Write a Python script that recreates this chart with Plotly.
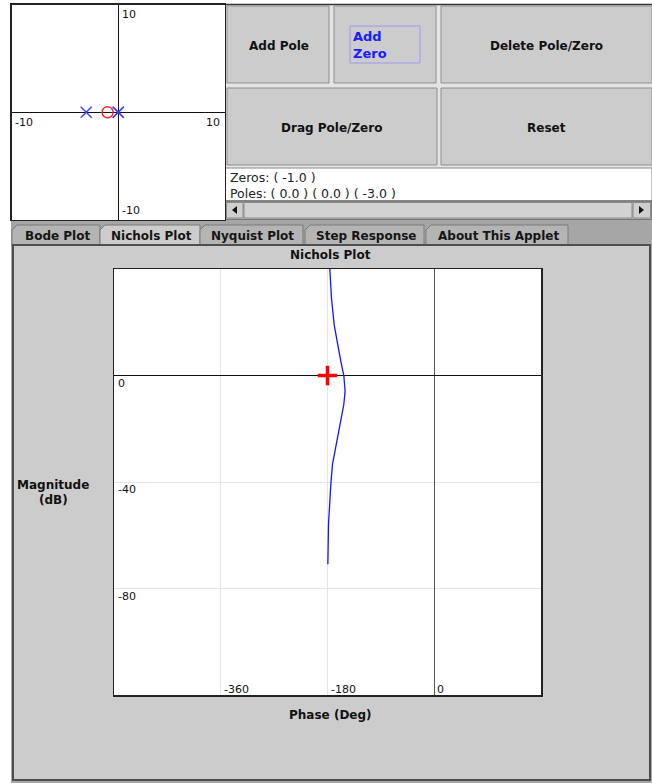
import plotly.graph_objects as go

# ---------------- data ----------------
ZEROS = [-1.0]
POLES = [0.0, 0.0, -3.0]

# Nichols curve (phase in deg, magnitude in dB)
PHASE = [-176.1, -173.3, -168.8, -163.2, -157.6, -152.5, -150.3, -152.5,
         -157.6, -166.0, -171.6, -174.4, -176.1, -178.3, -179.4]
MAG = [40.0, 29.1, 19.1, 11.6, 5.4, 0.0, -5.9, -10.9,
       -17.1, -25.9, -33.4, -40.9, -47.1, -55.9, -70.9]

CRIT_PHASE = [-180]
CRIT_MAG = [0]

X_TICKS = [-360, -180, 0]
X_TICK_LABELS = ["-360", "-180", "0"]
Y_TICKS = [0, -40, -80]
Y_TICK_LABELS = ["0", "-40", "-80"]
X_RANGE = [-540, 180]
Y_RANGE = [-120, 40]

PZ_RANGE = [-10, 10]
PZ_LABELS = ["10", "-10", "10", "-10"]

BUTTONS = ["Add Pole", "Add<br>Zero", "Delete Pole/Zero", "Drag Pole/Zero", "Reset"]
TABS = ["Bode Plot", "Nichols Plot", "Nyquist Plot", "Step Response", "About This Applet"]

W, H = 652, 783
FONT = "DejaVu Sans"


def px(x):
    return x / W


def py(y):
    return 1 - y / H


shapes = []
annotations = []


def rect(x0, y0, x1, y1, fill=None, line=None, lw=1):
    shapes.append(dict(type="rect", xref="paper", yref="paper",
                       x0=px(x0), x1=px(x1), y0=py(y1), y1=py(y0),
                       fillcolor=fill if fill else "rgba(0,0,0,0)",
                       line=dict(color=line if line else "rgba(0,0,0,0)", width=lw if line else 0),
                       layer="below"))


def path(pts, fill, line=None, lw=1):
    d = "M " + " L ".join(f"{px(x):.5f},{py(y):.5f}" for x, y in pts) + " Z"
    shapes.append(dict(type="path", xref="paper", yref="paper", path=d,
                       fillcolor=fill,
                       line=dict(color=line if line else "rgba(0,0,0,0)", width=lw if line else 0),
                       layer="below"))


def text(x, y, s, size=12, bold=True, color="#111111", xanchor="center", align="center"):
    annotations.append(dict(xref="paper", yref="paper", x=px(x), y=py(y), text=s,
                            showarrow=False, xanchor=xanchor, yanchor="middle", align=align,
                            font=dict(family=FONT, size=size, color=color,
                                      weight="bold" if bold else "normal")))


# ---------- top-right controls ----------
rect(225, 4, 652, 168, fill="#e4e4e4")
shapes.append(dict(type="line", xref="paper", yref="paper", x0=px(225), x1=px(652),
                   y0=py(4.5), y1=py(4.5), line=dict(color="#333333", width=1.5), layer="below"))
btn_boxes = [(227, 6, 329, 83), (334, 6, 436, 83), (441, 6, 652, 83),
             (227, 88, 437, 165), (441, 88, 652, 165)]
for (x0, y0, x1, y1) in btn_boxes:
    rect(x0, y0, x1, y1, fill="#cccccc", line="#8e8e8e", lw=1)
# focus rectangle on "Add Zero"
rect(350, 26, 420, 63, line="#9a9aee", lw=1)

text(279, 45.5, BUTTONS[0], size=12)
text(351, 45, BUTTONS[1], size=13, color="#1a1aff", xanchor="left", align="left")
text(546.5, 45.5, BUTTONS[2], size=12)
text(332, 127.5, BUTTONS[3], size=12)
text(546.5, 127.5, BUTTONS[4], size=12)

# text area
rect(225, 168, 652, 201, fill="#ffffff", line="#8a8a8a", lw=1)
zeros_txt = "Zeros: " + " ".join(f"( {z:.1f} )" for z in ZEROS)
poles_txt = "Poles: " + " ".join(f"( {p:.1f} )" for p in POLES)
text(227.5, 177, zeros_txt, size=12.5, bold=False, color="#222222", xanchor="left")
text(227.5, 193.5, poles_txt, size=12.5, bold=False, color="#222222", xanchor="left")

# scrollbar
rect(225, 201, 652, 219.5, fill="#bdbdbd", line="#444444", lw=1)
rect(226.5, 202.5, 243, 218, fill="#cfcfcf", line="#8a8a8a", lw=1)
rect(244, 202.5, 632, 218, fill="#d2d2d2", line="#8a8a8a", lw=1)
rect(633, 202.5, 650.5, 218, fill="#cfcfcf", line="#8a8a8a", lw=1)
path([(237, 206), (237, 214), (232, 210)], fill="#111111")
path([(639, 206), (639, 214), (644, 210)], fill="#111111")

# ---------- tab strip and panel ----------
rect(11, 219.5, 652, 783, fill="#a6a6a6")
tab_x = [(12, 100), (100, 200), (200, 303), (305, 424), (426, 568)]
for i, (x0, x1) in enumerate(tab_x):
    sel = (i == 1)
    path([(x0, 246), (x0, 230), (x0 + 5, 225), (x1, 225), (x1, 246)],
         fill="#cccccc" if sel else "#b4b4b4", line="#7a7a7a", lw=1)
    text((x0 + x1) / 2 + 1, 236, TABS[i], size=12, color="#151515")

rect(13, 245, 650, 780, fill="#cccccc", line="#4e4e4e", lw=2)
text(331, 255.5, "Nichols Plot", size=12)
text(53, 485, "Magnitude", size=12)
text(53, 500, "(dB)", size=12)
text(331, 715, "Phase (Deg)", size=12)

# white plot backgrounds
rect(114, 269, 541, 695, fill="#ffffff")
rect(11.5, 4.5, 225, 220, fill="#ffffff")

# ---------- traces ----------
fig = go.Figure()
fig.add_trace(go.Scatter(x=PHASE, y=MAG, mode="lines",
                         line=dict(color="#1414ff", width=1.3),
                         xaxis="x", yaxis="y", hoverinfo="skip"))
fig.add_trace(go.Scatter(x=CRIT_PHASE, y=CRIT_MAG, mode="markers",
                         marker=dict(symbol="cross-thin", size=14,
                                     line=dict(color="#ff0000", width=3.5)),
                         xaxis="x", yaxis="y", hoverinfo="skip"))
fig.add_trace(go.Scatter(x=POLES, y=[0] * len(POLES), mode="markers",
                         marker=dict(symbol="x-thin", size=11,
                                     line=dict(color="#3c3cff", width=1.4)),
                         xaxis="x2", yaxis="y2", hoverinfo="skip"))
fig.add_trace(go.Scatter(x=ZEROS, y=[0] * len(ZEROS), mode="markers",
                         marker=dict(symbol="circle-open", size=11,
                                     color="#ff2020", line=dict(width=1.4)),
                         xaxis="x2", yaxis="y2", hoverinfo="skip"))

# Nichols tick labels inside the plot
for v, s in zip(X_TICKS, X_TICK_LABELS):
    annotations.append(dict(xref="x", yref="y", x=v, y=Y_RANGE[0], text=s, showarrow=False,
                            xanchor="left", yanchor="bottom", xshift=1, yshift=-3,
                            font=dict(family=FONT, size=11, color="#111111")))
for v, s in zip(Y_TICKS, Y_TICK_LABELS):
    annotations.append(dict(xref="x", yref="y", x=X_RANGE[0], y=v, text=s, showarrow=False,
                            xanchor="left", yanchor="top", xshift=2, yshift=1,
                            font=dict(family=FONT, size=11, color="#111111")))

# pole-zero axis labels
annotations.append(dict(xref="x2", yref="y2", x=0, y=PZ_RANGE[1], text=PZ_LABELS[0], showarrow=False,
                        xanchor="left", yanchor="top", xshift=2, yshift=-1,
                        font=dict(family=FONT, size=11, color="#111111")))
annotations.append(dict(xref="x2", yref="y2", x=PZ_RANGE[0], y=0, text=PZ_LABELS[1], showarrow=False,
                        xanchor="left", yanchor="top", xshift=1, yshift=-2,
                        font=dict(family=FONT, size=11, color="#111111")))
annotations.append(dict(xref="x2", yref="y2", x=PZ_RANGE[1], y=0, text=PZ_LABELS[2], showarrow=False,
                        xanchor="right", yanchor="top", xshift=-3, yshift=-2,
                        font=dict(family=FONT, size=11, color="#111111")))
annotations.append(dict(xref="x2", yref="y2", x=0, y=PZ_RANGE[0], text=PZ_LABELS[3], showarrow=False,
                        xanchor="left", yanchor="bottom", xshift=2, yshift=1,
                        font=dict(family=FONT, size=11, color="#111111")))

fig.update_layout(
    width=W, height=H, margin=dict(l=0, r=0, t=0, b=0),
    paper_bgcolor="#ffffff", plot_bgcolor="#ffffff",
    showlegend=False,
    xaxis=dict(domain=[px(114), px(541)], range=X_RANGE, anchor="y",
               tickvals=X_TICKS, showticklabels=False, ticks="",
               showgrid=True, gridcolor="#e3e6e8", gridwidth=1,
               zeroline=True, zerolinecolor="#555555", zerolinewidth=1.5,
               showline=True, mirror=True, linecolor="#222222", linewidth=1.5,
               fixedrange=True),
    yaxis=dict(domain=[py(695), py(269)], range=Y_RANGE, anchor="x",
               tickvals=Y_TICKS, showticklabels=False, ticks="",
               showgrid=True, gridcolor="#e3e6e8", gridwidth=1,
               zeroline=True, zerolinecolor="#111111", zerolinewidth=1.5,
               showline=True, mirror=True, linecolor="#222222", linewidth=1.5,
               fixedrange=True),
    xaxis2=dict(domain=[px(11.5), px(225)], range=PZ_RANGE, anchor="y2",
                showticklabels=False, ticks="", showgrid=False,
                zeroline=True, zerolinecolor="#111111", zerolinewidth=1.3,
                showline=True, mirror=True, linecolor="#222222", linewidth=1.3,
                fixedrange=True),
    yaxis2=dict(domain=[py(220), py(4.5)], range=PZ_RANGE, anchor="x2",
                showticklabels=False, ticks="", showgrid=False,
                zeroline=True, zerolinecolor="#111111", zerolinewidth=1.3,
                showline=True, mirror=True, linecolor="#222222", linewidth=1.3,
                fixedrange=True),
    shapes=shapes,
    annotations=annotations,
)

fig.write_html("out.html", config={"displayModeBar": False, "staticPlot": True},
               post_script="document.body.style.margin='0';document.body.style.overflow='hidden';")
